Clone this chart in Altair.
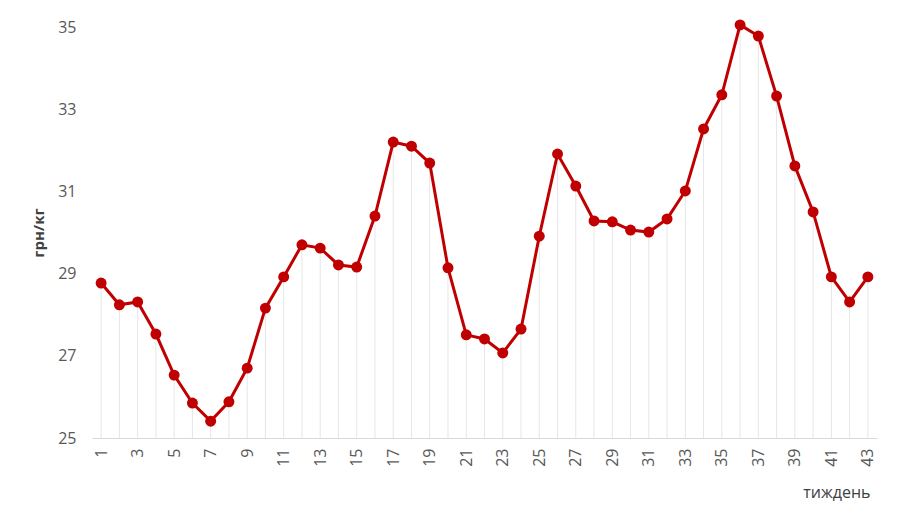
import altair as alt
import pandas as pd

weeks = list(range(1, 44))
prices = [28.77, 28.24, 28.31, 27.53, 26.53, 25.85, 25.41, 25.88, 26.70, 28.16,
          28.92, 29.70, 29.62, 29.21, 29.16, 30.40, 32.20, 32.10, 31.69, 29.14,
          27.51, 27.41, 27.07, 27.65, 29.91, 31.91, 31.13, 30.28, 30.26, 30.06,
          30.01, 30.33, 31.01, 32.52, 33.35, 35.05, 34.78, 33.32, 31.62, 30.50,
          28.92, 28.31, 28.92]
x_labels = [str(w) for w in weeks if w % 2 == 1]
y_ticks = [25, 27, 29, 31, 33, 35]

df = pd.DataFrame({"week": [str(w) for w in weeks], "price": prices, "base": [25] * len(weeks)})

FONT = "Open Sans"
x_enc = alt.X(
    "week:O",
    sort=[str(w) for w in weeks],
    scale=alt.Scale(type="point", padding=0.5),
    axis=alt.Axis(
        title="тиждень",
        values=x_labels,
        labelAngle=270,
        labelAlign="right",
        labelBaseline="middle",
        labelFont=FONT,
        labelFontSize=16,
        labelColor="#595959",
        labelPadding=10,
        ticks=False,
        domainColor="#d9d9d9",
        domainWidth=1,
        grid=False,
        titleFont=FONT,
        titleFontSize=16,
        titleFontWeight="normal",
        titleColor="#404040",
        titleAnchor="end",
        titleAlign="right",
        titleX=778,
        titlePadding=18,
    ),
)
y_scale = alt.Scale(domain=[25, 35], nice=False, zero=False)
y_axis = alt.Axis(
    title="грн/кг",
    values=y_ticks,
    labelFont=FONT,
    labelFontSize=16,
    labelColor="#595959",
    labelPadding=16,
    ticks=False,
    domain=False,
    grid=False,
    titleFont=FONT,
    titleFontSize=15,
    titleFontWeight="bold",
    titleColor="#404040",
    titlePadding=11,
)

rules = alt.Chart(df).mark_rule(color="#e6e6e6", strokeWidth=1).encode(
    x=x_enc,
    y=alt.Y("base:Q", scale=y_scale, axis=y_axis),
    y2="price:Q",
)
line = alt.Chart(df).mark_line(color="#c00000", strokeWidth=3).encode(
    x=x_enc,
    y=alt.Y("price:Q", scale=y_scale, axis=y_axis),
)
points = alt.Chart(df).mark_point(filled=True, color="#c00000", size=120, opacity=1).encode(
    x=x_enc,
    y=alt.Y("price:Q", scale=y_scale, axis=y_axis),
)

chart = (
    alt.layer(rules, line, points)
    .properties(
        width=785,
        height=411,
        autosize=alt.AutoSizeParams(type="none"),
        padding={"left": 84, "top": 19, "right": 15, "bottom": 79},
    )
    .configure_view(stroke=None)
)

chart.save("out.html", embed_options={"renderer": "svg", "actions": False})
